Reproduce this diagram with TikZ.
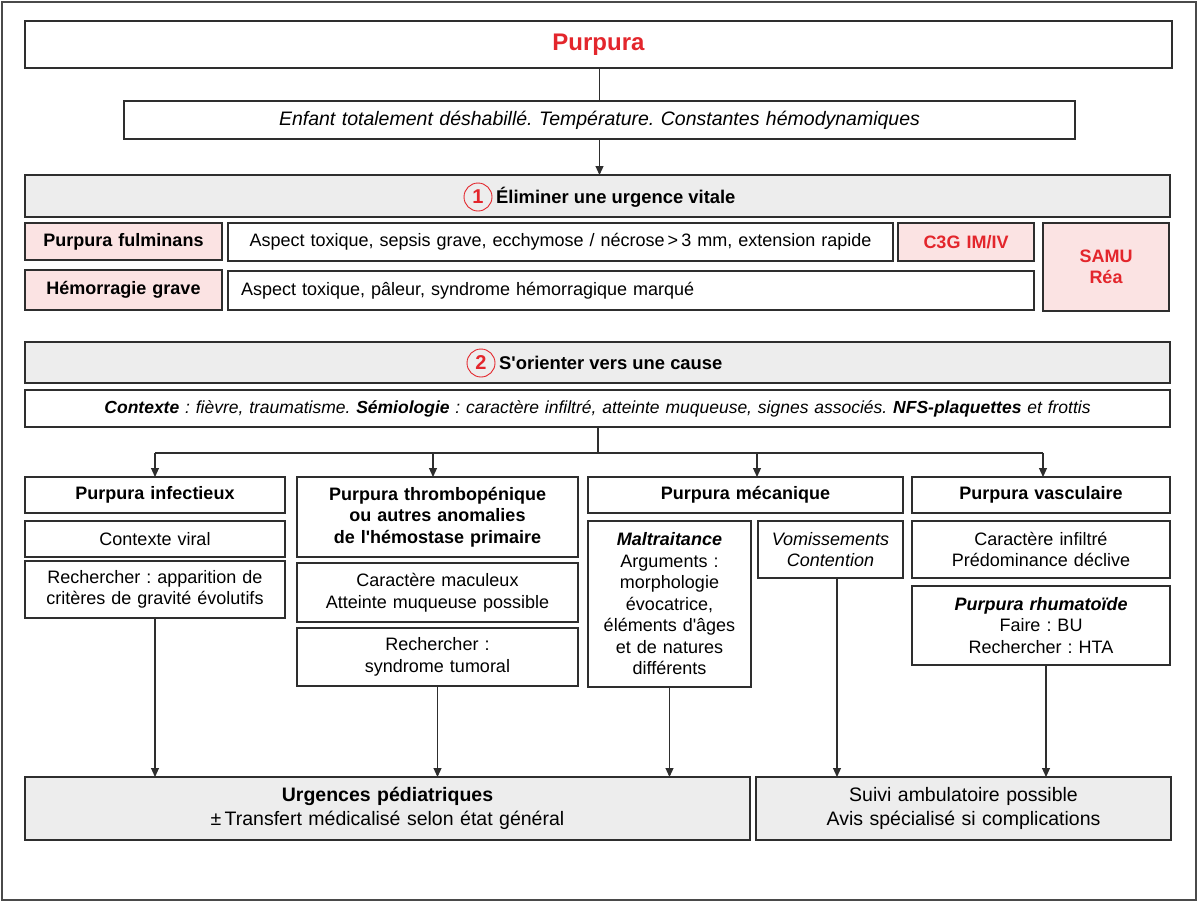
\documentclass[tikz,border=0pt]{standalone}
\usepackage{fontspec}
\setmainfont{Liberation Sans}
\usetikzlibrary{arrows.meta}
\definecolor{redt}{HTML}{E3262C}
\definecolor{pinkf}{HTML}{FBE3E3}
\definecolor{grayf}{HTML}{EDEDED}
\definecolor{linec}{HTML}{2E2E2E}
\definecolor{framec}{HTML}{4A4A4A}
\frenchspacing
\newcommand\fs[2]{\fontsize{#1}{#2}\selectfont}
\newcommand\ap{\textquotesingle}
% \bx{name}{x1}{y1}{x2}{y2}{style}{text}
\newcommand\bx[7]{\node[box,minimum width={#4pt-#2pt},minimum height={#5pt-#3pt},text width={#4pt-#2pt-10pt},#6] (#1) at ({(#2+#4)/2},{(#3+#5)/2}) {#7};}
\tikzset{
  box/.style={draw=linec,line width=1.2pt,inner sep=0pt,outer sep=0pt,align=center,font=\fs{18}{21.5}},
  pinkbox/.style={fill=pinkf},
  graybox/.style={fill=grayf},
  bold/.style={font=\fs{18}{21.5}\bfseries},
  redbold/.style={font=\fs{18}{21.5}\bfseries,text=redt},
  numc/.style={circle,draw=redt,line width=0.9pt,minimum size=28pt,inner sep=0pt,text=redt,font=\fs{20}{22}\bfseries},
  conn/.style={draw=linec,line width=1.1pt},
  arr/.style={conn,-{Triangle[length=9pt,width=8pt]}}
}
\begin{document}
\begin{tikzpicture}[x=1pt,y=-1pt]
\useasboundingbox (0,0) rectangle (1200,903);
\draw[framec,line width=1.4pt] (2,2) rectangle (1196,900);
% top
\bx{top}{25}{21}{1172}{68}{font=\fs{24}{28}\bfseries,text=redt}{Purpura}
\bx{exam}{124}{101}{1075}{139}{font=\fs{19.5}{23}\itshape}{Enfant totalement déshabillé. Température. Constantes hémodynamiques}
\draw[conn] (top.south -| exam.north) -- (exam.north);
% section 1
\bx{hA}{25}{175}{1170}{217}{graybox}{}
\node[numc] (cA) at (478,197) {1};
\node[anchor=west,inner sep=0pt,font=\fs{18.4}{21.5}\bfseries] (tA) at (496,197) {Éliminer une urgence vitale};
\draw[arr] (exam.south) -- (exam.south |- hA.north);
\bx{pf}{25}{223}{222}{260}{pinkbox,bold}{Purpura fulminans}
\bx{pft}{228}{223}{893}{261}{}{Aspect toxique, sepsis grave, ecchymose / nécrose\,>\,3 mm, extension rapide}
\bx{c3g}{898}{223}{1034}{261}{pinkbox,redbold}{C3G IM/IV}
\bx{samu}{1043}{223}{1169}{311}{pinkbox,redbold}{SAMU\\Réa}
\bx{hg}{25}{270}{222}{310}{pinkbox,bold}{Hémorragie grave}
\bx{hgt}{228}{271}{1034}{310}{align=left,text width=780pt}{Aspect toxique, pâleur, syndrome hémorragique marqué}
% section 2
\bx{hB}{25}{342}{1170}{383}{graybox}{}
\node[numc] (cB) at (481,363) {2};
\node[anchor=west,inner sep=0pt,font=\fs{18.4}{21.5}\bfseries] (tB) at (499,363) {S\ap orienter vers une cause};
\bx{ctx}{25}{390}{1170}{427}{font=\fs{17.5}{20}\itshape}{\textbf{Contexte} : fièvre, traumatisme. \textbf{Sémiologie} : caractère infiltré, atteinte muqueuse, signes associés. \textbf{NFS-plaquettes} et frottis}
% columns
\bx{inf}{25}{477}{285}{513}{bold}{Purpura infectieux}
\bx{infA}{25}{521}{285}{557}{}{Contexte viral}
\bx{infB}{25}{561}{285}{618}{}{Rechercher : apparition de\\critères de gravité évolutifs}
\bx{thr}{297}{477}{578}{557}{bold}{Purpura thrombopénique\\ou autres anomalies\\de l\ap hémostase primaire}
\bx{thrA}{297}{563}{578}{622}{}{Caractère maculeux\\Atteinte muqueuse possible}
\bx{thrB}{297}{628}{578}{686}{}{Rechercher :\\syndrome tumoral}
\bx{mec}{588}{477}{903}{513}{bold}{Purpura mécanique}
\bx{mal}{588}{521}{751}{687}{}{\textbf{\textit{Maltraitance}}\\Arguments :\\morphologie\\évocatrice,\\éléments d\ap âges\\et de natures\\différents}
\bx{vom}{758}{521}{903}{578}{font=\fs{18}{21.5}\itshape}{Vomissements\\Contention}
\bx{vas}{912}{477}{1170}{513}{bold}{Purpura vasculaire}
\bx{vasA}{912}{521}{1170}{578}{}{Caractère infiltré\\Prédominance déclive}
\bx{vasB}{912}{586}{1170}{665}{}{\textbf{\textit{Purpura rhumatoïde}}\\Faire : BU\\Rechercher : HTA}
% bottom
\bx{urg}{25}{777}{750}{840}{graybox,font=\fs{19.5}{23.5}}{\textbf{Urgences pédiatriques}\\±\,Transfert médicalisé selon état général}
\bx{amb}{756}{777}{1171}{840}{graybox,font=\fs{19.5}{23.5}}{Suivi ambulatoire possible\\Avis spécialisé si complications}
% connectors
\coordinate (j) at (598,453);
\coordinate (jl) at (155,453);
\coordinate (jr) at (1043,453);
\coordinate (jb) at (433,453);
\coordinate (jc) at (757,453);
\draw[conn] (ctx.south -| j) -- (j);
\draw[conn] (jl) -- (jr);
\draw[arr] (jl) -- (jl |- inf.north);
\draw[arr] (jb) -- (jb |- thr.north);
\draw[arr] (jc) -- (jc |- mec.north);
\draw[arr] (jr) -- (jr |- vas.north);
\draw[arr] (infB.south) -- (infB.south |- urg.north);
\draw[arr] (thrB.south) -- (thrB.south |- urg.north);
\draw[arr] (mal.south) -- (mal.south |- urg.north);
\coordinate (vb) at (837,578);
\coordinate (rb) at (1046,665);
\draw[arr] (vb) -- (vb |- amb.north);
\draw[arr] (rb) -- (rb |- amb.north);
\end{tikzpicture}
\end{document}
